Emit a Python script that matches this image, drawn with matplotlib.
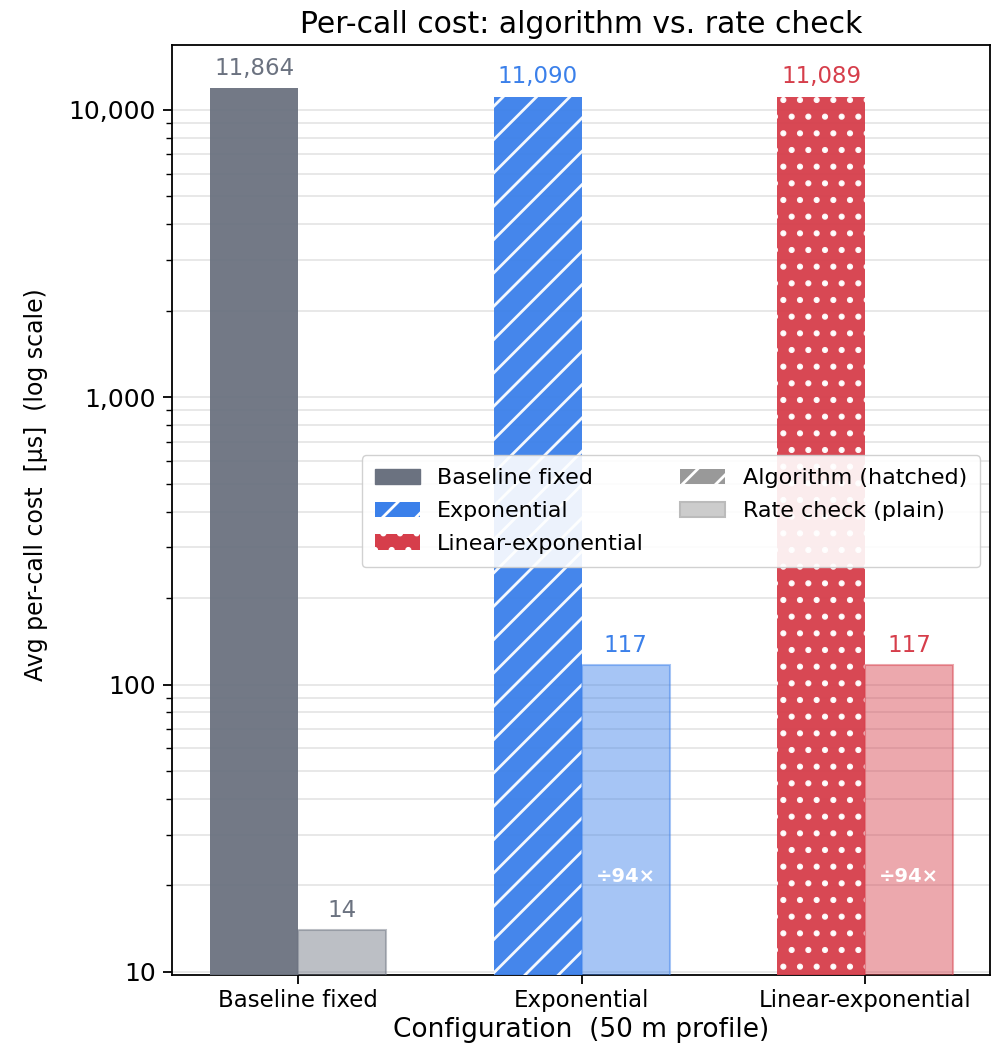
import matplotlib.pyplot as plt
import numpy as np
from matplotlib.patches import Patch
from matplotlib.ticker import FuncFormatter, LogLocator

configs = ["Baseline fixed", "Exponential", "Linear-exponential"]
algo_cost = [11864, 11090, 11089]
rate_cost = [14, 117, 117]
speedup_labels = [None, "÷94×", "÷94×"]
colors = ["#6b7280", "#3b80ea", "#d63e4b"]
hatches = [None, "/", "."]

plt.rcParams['hatch.linewidth'] = 2.0

fig = plt.figure(figsize=(9.92, 10.57), dpi=100)
ax = fig.add_axes([0.1734, 0.0776, 0.8246, 0.8798])

x = np.arange(len(configs))
w = 0.31

for i in range(len(configs)):
    c = colors[i]
    # algorithm cost (hatched) and rate check (plain, lighter)
    ax.bar(x[i] - w / 2, algo_cost[i], w, color=c, alpha=0.95, hatch=hatches[i],
           edgecolor='white' if hatches[i] else c, linewidth=0, zorder=3)
    ax.bar(x[i] + w / 2, rate_cost[i], w, color=c, alpha=0.45,
           edgecolor=c, linewidth=1.5, zorder=3)
    ax.text(x[i] - w / 2, algo_cost[i] * 1.07, f"{algo_cost[i]:,}", ha='center', va='bottom',
            color=c, fontsize=16.5)
    ax.text(x[i] + w / 2, rate_cost[i] * 1.07, f"{rate_cost[i]:,}", ha='center', va='bottom',
            color=c, fontsize=16.5)
    if speedup_labels[i]:
        ax.text(x[i] + w / 2, 21.5, speedup_labels[i], ha='center', va='center',
                color='white', fontsize=14, fontweight='bold', zorder=4)

ax.set_yscale('log')
ax.set_ylim(9.76, 16800)
ax.set_xlim(-0.445, 2.44)
ax.set_xticks(x)
ax.set_xticklabels(configs, fontsize=16.5)
ax.yaxis.set_major_formatter(FuncFormatter(lambda v, p: f"{v:,.0f}"))
ax.yaxis.set_minor_locator(LogLocator(base=10, subs=np.arange(2, 10)))
ax.tick_params(axis='y', labelsize=18, pad=5)
ax.tick_params(which='major', length=6.5, width=1.3)
ax.tick_params(which='minor', length=4, width=1.0)
for s in ax.spines.values():
    s.set_linewidth(1.3)
ax.grid(axis='y', which='both', color='#e8e8e8', linewidth=1.4, zorder=0)
ax.set_axisbelow(True)

ax.set_title("Per-call cost: algorithm vs. rate check", fontsize=21.5, pad=9)
ax.set_xlabel("Configuration  (50 m profile)", fontsize=19)
ax.set_ylabel("Avg per-call cost  [µs]  (log scale)", fontsize=17)
ax.yaxis.set_label_coords(-0.152, 0.527)

handles = [
    Patch(facecolor=colors[0], edgecolor=colors[0], label="Baseline fixed"),
    Patch(facecolor=colors[1], edgecolor='white', hatch='/', linewidth=0, label="Exponential"),
    Patch(facecolor=colors[2], edgecolor='white', hatch='.', linewidth=0, label="Linear-exponential"),
    Patch(facecolor='#999999', edgecolor='white', hatch='/', linewidth=0, label="Algorithm (hatched)"),
    Patch(facecolor='#cccccc', edgecolor='#bbbbbb', linewidth=1.5, label="Rate check (plain)"),
]
ax.legend(handles=handles, ncol=2, loc='upper right', bbox_to_anchor=(0.988, 0.559),
          borderaxespad=0, fontsize=16, framealpha=0.9, labelspacing=0.57, borderpad=0.6,
          columnspacing=1.63)

fig.savefig("out.png", dpi=100)
